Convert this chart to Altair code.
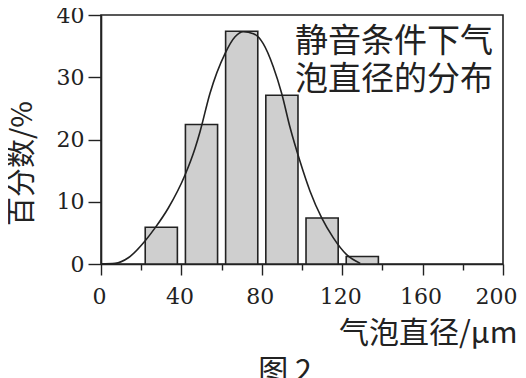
import altair as alt
import pandas as pd

# ---- data ----
bin_lo = [22, 42, 62, 82, 102, 122]
bin_hi = [38, 58, 78, 98, 118, 138]
percent = [5.9, 22.4, 37.4, 27.1, 7.4, 1.2]

curve_x = [0, 7, 13.6, 21.9, 26.9, 33.5, 41.8, 46.8, 49.3, 54.2, 61.7, 66.7,
           70.8, 75.8, 80.7, 85.7, 89.9, 94, 99, 104, 109.8, 115.6, 122.2, 129]
curve_y = [0.0, 0.1, 1.0, 3.7, 5.8, 9.0, 14.3, 18.6, 21.3, 27.4, 33.8, 36.5,
           37.3, 37.0, 35.4, 31.7, 27.4, 22.0, 16.5, 11.7, 7.4, 4.2, 1.5, 0.1]

x_ticks = list(range(0, 201, 10))
y_ticks = [i * 2.5 for i in range(17)]

annotation = "静音条件下气\n泡直径的分布"
x_title = "气泡直径/μm"
y_title = "百分数/%"
caption = "图  2"

bars_df = pd.DataFrame({"lo": bin_lo, "hi": bin_hi, "pct": percent})
curve_df = pd.DataFrame({"d": curve_x, "p": curve_y})

NUM_FONT = "DejaVu Serif"
CJK_FONT = "Noto Sans CJK SC"
INK = "#222222"

x_scale = alt.Scale(domain=[0, 200], nice=False, zero=False)
y_scale = alt.Scale(domain=[0, 40], nice=False)

x_axis = alt.Axis(
    values=x_ticks,
    labelExpr="datum.value % 40 === 0 ? datum.label : ''",
    tickSize={"condition": {"test": "datum.value % 40 === 0", "value": 11}, "value": 6},
    labelOffset={"condition": {"test": "datum.value === 200", "value": -7}, "value": -2},
    labelPadding=11,
    labelOverlap=False,
    labelFlush=False,
    labelBound=False,
    labelFont=NUM_FONT,
    labelFontSize=22,
    labelColor=INK,
    labelBaseline="top",
    title=x_title,
    titleFont=CJK_FONT,
    titleFontSize=30,
    titleFontWeight="normal",
    titleColor=INK,
    titleX=416,
    titleY=78,
    titleAlign="right",
    titleBaseline="alphabetic",
    grid=False,
)

y_axis = alt.Axis(
    values=y_ticks,
    labelExpr="datum.value % 10 === 0 ? datum.label : ''",
    tickSize={"condition": {"test": "datum.value % 10 === 0", "value": 13}, "value": 7},
    labelPadding=4,
    labelOverlap=False,
    labelFlush=False,
    labelBound=False,
    labelFont=NUM_FONT,
    labelFontSize=22,
    labelColor=INK,
    title=y_title,
    titleFont=CJK_FONT,
    titleFontSize=29,
    titleFontWeight="normal",
    titleColor=INK,
    titleX=-79,
    titleY=148,
    titleAngle=270,
    titleAlign="center",
    titleBaseline="middle",
    grid=False,
)

bars = alt.Chart(bars_df).mark_rect(
    fill="#cfcfcf", stroke=INK, strokeWidth=1.6
).encode(
    x=alt.X("lo:Q", scale=x_scale, axis=x_axis),
    x2="hi",
    y=alt.Y("pct:Q", scale=y_scale, axis=y_axis),
    y2=alt.datum(0),
)

curve = alt.Chart(curve_df).mark_line(
    color=INK, strokeWidth=1.6, interpolate="monotone"
).encode(
    x=alt.X("d:Q", scale=x_scale),
    y=alt.Y("p:Q", scale=y_scale),
)

note = alt.Chart(pd.DataFrame({"t": [annotation]})).mark_text(
    font=CJK_FONT, fontSize=33, color=INK, align="left", baseline="top",
    lineBreak="\n", lineHeight=38,
).encode(text="t:N", x=alt.value(194), y=alt.value(11))

cap = alt.Chart(pd.DataFrame({"t": [caption]})).mark_text(
    font=CJK_FONT, fontSize=30, color=INK, align="center", baseline="top",
).encode(text="t:N", x=alt.value(184), y=alt.value(342))

chart = alt.layer(bars, curve, note, cap).properties(
    width=402,
    height=249,
    autosize=alt.AutoSizeParams(type="none"),
    padding={"left": 93, "top": 7, "right": 15, "bottom": 114},
).configure_view(
    stroke=INK, strokeWidth=1.6
).configure_axis(
    domainColor=INK, domainWidth=1.6, tickColor=INK, tickWidth=1.4
)

chart.save("out.html", embed_options={"renderer": "svg", "actions": False})
